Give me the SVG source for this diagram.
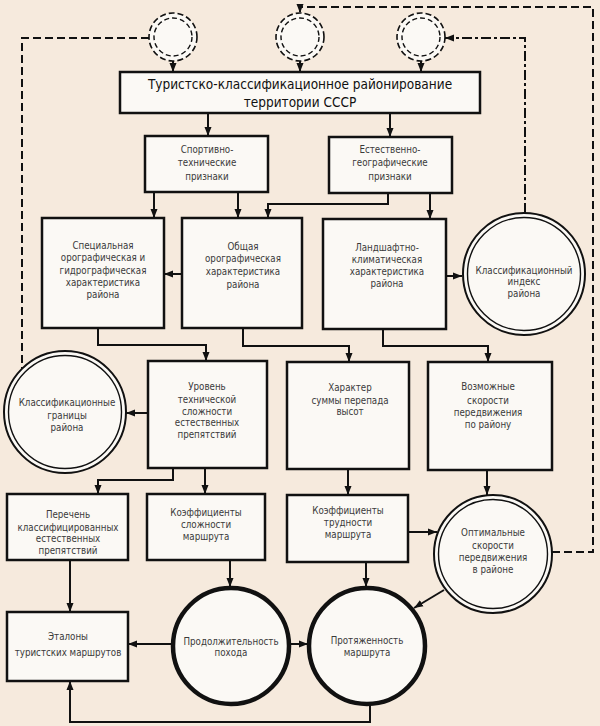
<svg xmlns="http://www.w3.org/2000/svg" width="600" height="726" viewBox="0 0 600 726">
<style>
.bg{fill:#f6eadd}
.box{fill:#fbf9f5;stroke:#111;stroke-width:2.5}
.c1{fill:#fbf9f5;stroke:#111;stroke-width:2}
.c2{fill:none;stroke:#111;stroke-width:1.4}
.thick{fill:#fbf9f5;stroke:#111;stroke-width:4.5}
.dc{fill:#fbf9f5;stroke:#111;stroke-width:1.6;stroke-dasharray:6,3}
.dci{fill:none;stroke:#111;stroke-width:1.4;stroke-dasharray:5,3}
.ln{fill:none;stroke:#111;stroke-width:2}
.dash{fill:none;stroke:#111;stroke-width:2;stroke-dasharray:8,4}
.dd{fill:none;stroke:#111;stroke-width:2;stroke-dasharray:10,3,3,3}
text{font-family:"DejaVu Sans Condensed","Liberation Sans",sans-serif;font-size:9.7px;fill:#3a3a3a;text-anchor:middle}
.t{font-size:13.5px;fill:#111}
</style>
<defs>
<marker id="a" markerUnits="userSpaceOnUse" markerWidth="10" markerHeight="8" refX="9" refY="4" orient="auto">
<path d="M0,0.5 L9,4 L0,7.5 Z" fill="#111"/>
</marker>
</defs>
<rect class="bg" x="0" y="0" width="600" height="726"/>
<g id="connectors">
<path class="ln" d="M173,61V72" marker-end="url(#a)"/>
<path class="ln" d="M300,61V72" marker-end="url(#a)"/>
<path class="ln" d="M421,61V72" marker-end="url(#a)"/>
<path class="ln" d="M208,113V136" marker-end="url(#a)"/>
<path class="ln" d="M390,113V137" marker-end="url(#a)"/>
<path class="ln" d="M154,192V218" marker-end="url(#a)"/>
<path class="ln" d="M238,192V218" marker-end="url(#a)"/>
<path class="ln" d="M388,193V204H268V218" marker-end="url(#a)"/>
<path class="ln" d="M430,193V219" marker-end="url(#a)"/>
<path class="ln" d="M182,274H164" marker-end="url(#a)"/>
<path class="ln" d="M446,276H462" marker-end="url(#a)"/>
<path class="ln" d="M98,328V345H206V361" marker-end="url(#a)"/>
<path class="ln" d="M243,328V346H349V362" marker-end="url(#a)"/>
<path class="ln" d="M383,329V346H488V362" marker-end="url(#a)"/>
<path class="ln" d="M148,413H126" marker-end="url(#a)"/>
<path class="ln" d="M173,468V480H98V494" marker-end="url(#a)"/>
<path class="ln" d="M205,468V494" marker-end="url(#a)"/>
<path class="ln" d="M348,469V495" marker-end="url(#a)"/>
<path class="ln" d="M487,470V495" marker-end="url(#a)"/>
<path class="ln" d="M70,560V612" marker-end="url(#a)"/>
<path class="ln" d="M230,560V587" marker-end="url(#a)"/>
<path class="ln" d="M172,644H128" marker-end="url(#a)"/>
<path class="ln" d="M290,644H308" marker-end="url(#a)"/>
<path class="ln" d="M408,532H437" marker-end="url(#a)"/>
<path class="ln" d="M366,562V587" marker-end="url(#a)"/>
<path class="ln" d="M444,590L414,608" marker-end="url(#a)"/>
<path class="ln" d="M370,705V722H70V681" marker-end="url(#a)"/>
<path class="dash" d="M149,38H22V369"/>
<path class="dash" d="M552,552H593V7H300V13" marker-end="url(#a)"/>
<path class="dd" d="M525,213V38H445" marker-end="url(#a)"/>
</g>
<g id="top-circle-1"><circle class="dc" cx="173" cy="37" r="24"/><circle class="dci" cx="173" cy="37" r="19"/></g>
<g id="top-circle-2"><circle class="dc" cx="300" cy="37" r="24"/><circle class="dci" cx="300" cy="37" r="19"/></g>
<g id="top-circle-3"><circle class="dc" cx="421" cy="37" r="24"/><circle class="dci" cx="421" cy="37" r="19"/></g>
<g id="title"><rect class="box" x="120" y="72" width="360" height="41"/>
<text class="t" x="300" y="89">Туристско-классификационное районирование</text>
<text class="t" x="300" y="107">территории СССР</text></g>
<g id="sport"><rect class="box" x="145" y="136" width="123" height="56"/>
<text x="207" y="153">Спортивно-</text><text x="207" y="166">технические</text><text x="207" y="180">признаки</text></g>
<g id="natural"><rect class="box" x="329" y="137" width="123" height="56"/>
<text x="390" y="153">Естественно-</text><text x="390" y="166">географические</text><text x="390" y="180">признаки</text></g>
<g id="special"><rect class="box" x="42" y="218" width="122" height="110"/>
<text x="103" y="249">Специальная</text><text x="103" y="261">орографическая и</text><text x="103" y="274">гидрографическая</text><text x="103" y="286">характеристика</text><text x="103" y="298">района</text></g>
<g id="general"><rect class="box" x="182" y="218" width="120" height="110"/>
<text x="243" y="250">Общая</text><text x="243" y="262">орографическая</text><text x="243" y="275">характеристика</text><text x="243" y="288">района</text></g>
<g id="landscape"><rect class="box" x="323" y="219" width="123" height="110"/>
<text x="387" y="251">Ландшафтно-</text><text x="387" y="263">климатическая</text><text x="387" y="275">характеристика</text><text x="387" y="287">района</text></g>
<g id="index"><circle class="c1" cx="524" cy="274" r="61"/><circle class="c2" cx="524" cy="274" r="56.5"/>
<text x="524" y="274">Классификационный</text><text x="524" y="285">индекс</text><text x="524" y="297">района</text></g>
<g id="bounds"><circle class="c1" cx="65" cy="412" r="61"/><circle class="c2" cx="65" cy="412" r="56.5"/>
<text x="67" y="406">Классификационные</text><text x="67" y="419">границы</text><text x="67" y="431">района</text></g>
<g id="level"><rect class="box" x="148" y="361" width="119" height="107"/>
<text x="207" y="390">Уровень</text><text x="207" y="403">технической</text><text x="207" y="415">сложности</text><text x="207" y="426">естественных</text><text x="207" y="438">препятствий</text></g>
<g id="character"><rect class="box" x="287" y="362" width="122" height="107"/>
<text x="350" y="391">Характер</text><text x="350" y="404">суммы перепада</text><text x="350" y="415">высот</text></g>
<g id="speeds"><rect class="box" x="428" y="362" width="124" height="108"/>
<text x="488" y="390">Возможные</text><text x="488" y="404">скорости</text><text x="488" y="416">передвижения</text><text x="488" y="428">по району</text></g>
<g id="list"><rect class="box" x="7" y="494" width="121" height="66"/>
<text x="68" y="518">Перечень</text><text x="68" y="531">классифицированных</text><text x="68" y="542">естественных</text><text x="68" y="554">препятствий</text></g>
<g id="complexity"><rect class="box" x="147" y="494" width="118" height="66"/>
<text x="206" y="516">Коэффициенты</text><text x="206" y="528">сложности</text><text x="206" y="540">маршрута</text></g>
<g id="difficulty"><rect class="box" x="287" y="495" width="121" height="67"/>
<text x="348" y="514">Коэффициенты</text><text x="348" y="526">трудности</text><text x="348" y="538">маршрута</text></g>
<g id="optimal"><circle class="c1" cx="493" cy="554" r="59"/><circle class="c2" cx="493" cy="554" r="54.5"/>
<text x="493" y="536">Оптимальные</text><text x="493" y="549">скорости</text><text x="493" y="561">передвижения</text><text x="493" y="573">в районе</text></g>
<g id="standards"><rect class="box" x="7" y="612" width="121" height="69"/>
<text x="68" y="640">Эталоны</text><text x="68" y="656">туристских маршрутов</text></g>
<g id="duration"><circle class="thick" cx="231" cy="646" r="58"/>
<text x="231" y="645">Продолжительность</text><text x="231" y="656">похода</text></g>
<g id="length"><circle class="thick" cx="367" cy="646" r="58"/>
<text x="367" y="644">Протяженность</text><text x="367" y="656">маршрута</text></g>
</svg>
